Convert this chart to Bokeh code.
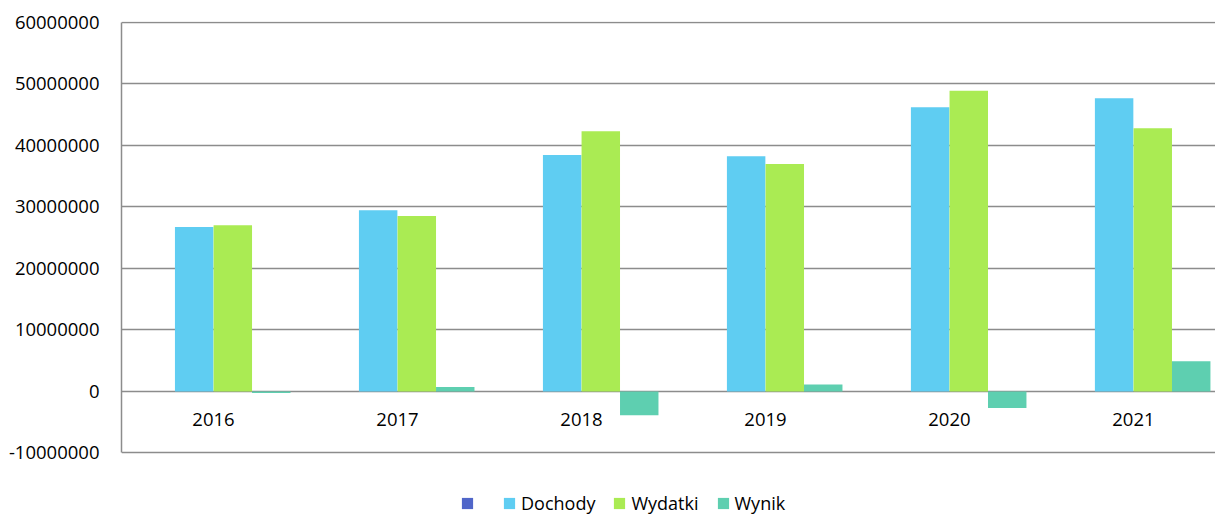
from bokeh.plotting import figure
from bokeh.models import ColumnDataSource, Legend, LegendItem, FixedTicker, Range1d, NumeralTickFormatter
from bokeh.core.properties import value
from bokeh.transform import dodge
from bokeh.embed import file_html
from bokeh.resources import INLINE

years = ["2016", "2017", "2018", "2019", "2020", "2021"]
blank = [0, 0, 0, 0, 0, 0]
dochody = [26760000, 29480000, 38470000, 38260000, 46200000, 47700000]
wydatki = [27040000, 28550000, 42300000, 37000000, 48900000, 42800000]
wynik = [-250000, 750000, -3850000, 1130000, -2670000, 4930000]
y_ticks = [-10000000, 0, 10000000, 20000000, 30000000, 40000000, 50000000, 60000000]

FONT = "Open Sans"
GRID = "#8c8c8c"

x = list(range(len(years)))
src = ColumnDataSource(dict(x=x, years=years, zero=[0] * len(years), blank=blank,
                            dochody=dochody, wydatki=wydatki, wynik=wynik))

# frame spans down to the page bottom so that the legend can sit inside it
p = figure(width=1215, height=514,
           x_range=Range1d(-0.5, 5.446), y_range=Range1d(-20000000, 60160000),
           output_backend="svg", toolbar_location=None)
p.min_border_left = 121
p.min_border_right = 0
p.min_border_top = 21
p.min_border_bottom = 0
p.outline_line_color = None

w = 0.209
r0 = p.vbar(x=dodge("x", -0.314), top="blank", bottom=0, width=w, source=src,
            fill_color="#5066c9", line_color=None)
r1 = p.vbar(x=dodge("x", -0.105), top="dochody", bottom=0, width=w, source=src,
            fill_color="#5fcdf2", line_color=None)
r2 = p.vbar(x=dodge("x", 0.105), top="wydatki", bottom=0, width=w, source=src,
            fill_color="#aaeb53", line_color=None)
r3 = p.vbar(x=dodge("x", 0.314), top="wynik", bottom=0, width=w, source=src,
            fill_color="#5ecfb0", line_color=None)

# category labels just under the zero line
p.text(x="x", y="zero", text="years", source=src, y_offset=28,
       text_align="center", text_baseline="middle",
       text_font=value(FONT), text_font_size="18.5px", text_color="#000000")

# y axis
yax = p.yaxis[0]
yax.ticker = FixedTicker(ticks=y_ticks)
yax.formatter = NumeralTickFormatter(format="0")
yax.bounds = (y_ticks[0], y_ticks[-1])
yax.major_tick_line_color = None
yax.minor_tick_line_color = None
yax.axis_line_color = GRID
yax.axis_line_width = 1.5
yax.major_label_standoff = 16
yax.major_label_text_font = FONT
yax.major_label_text_font_size = "18.5px"
yax.major_label_text_color = "#000000"

p.xaxis.visible = False
p.xgrid.visible = False
p.ygrid.ticker = FixedTicker(ticks=y_ticks)
p.ygrid.grid_line_color = GRID
p.ygrid.grid_line_width = 1.5

legend = Legend(items=[
    LegendItem(label="\u00a0", renderers=[r0]),
    LegendItem(label="Dochody", renderers=[r1]),
    LegendItem(label="Wydatki", renderers=[r2]),
    LegendItem(label="Wynik", renderers=[r3]),
], orientation="horizontal", location=(339, -1))
legend.border_line_color = None
legend.background_fill_alpha = 0
legend.label_text_font = FONT
legend.label_text_font_size = "18px"
legend.label_text_color = "#000000"
legend.glyph_width = 14
legend.glyph_height = 14
legend.label_standoff = 5
legend.label_width = 6
legend.spacing = 17
legend.padding = 0
legend.margin = 0
p.add_layout(legend, "center")

open("out.html", "w").write(file_html(p, INLINE))
